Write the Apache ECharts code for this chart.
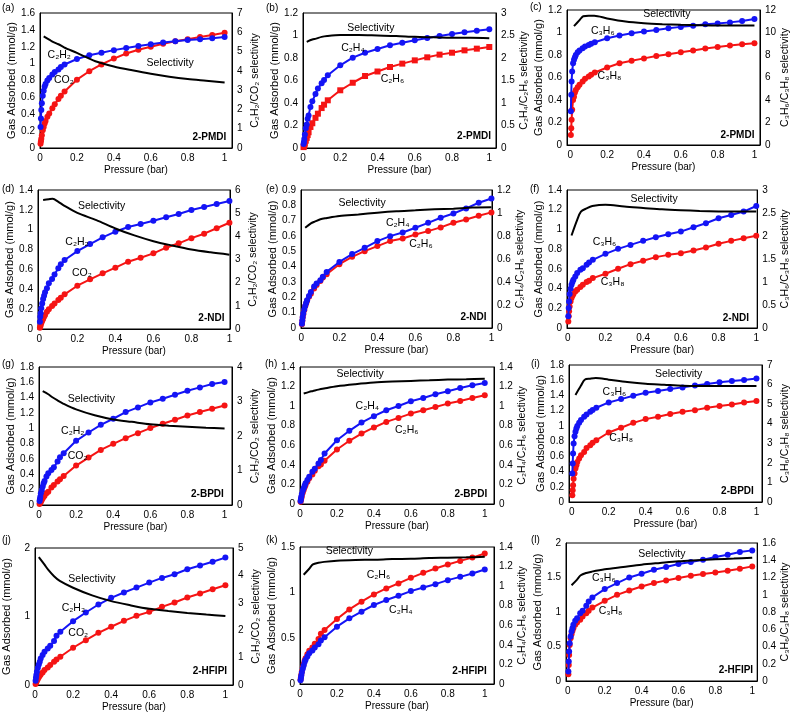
<!DOCTYPE html>
<html><head><meta charset="utf-8">
<script src="https://cdn.jsdelivr.net/npm/echarts@6/dist/echarts.min.js"></script>
<style>html,body{margin:0;padding:0;background:#fff}#c{width:792px;height:716px}</style>
</head><body><div id="c"></div>
<script>
// Pressure points (bar) for isotherms and selectivity curves
const P = [0.003, 0.005, 0.007, 0.01, 0.015, 0.02, 0.025, 0.03, 0.04, 0.05, 0.067, 0.08, 0.1, 0.113, 0.133, 0.2, 0.267, 0.333, 0.4, 0.467, 0.533, 0.6, 0.667, 0.733, 0.8, 0.867, 0.933, 1.0];
const SX = [0.02, 0.05, 0.07, 0.1, 0.13, 0.2, 0.3, 0.4, 0.5, 0.6, 0.7, 0.8, 0.9, 1.0];
const xTicks = [0, 0.2, 0.4, 0.6, 0.8, 1];

// (a) 2-PMDI C2H2/CO2
const a_C2H2 = [0.25, 0.35, 0.45, 0.53, 0.62, 0.68, 0.73, 0.76, 0.80, 0.83, 0.87, 0.90, 0.93, 0.96, 0.99, 1.055, 1.10, 1.13, 1.16, 1.185, 1.21, 1.23, 1.25, 1.265, 1.28, 1.29, 1.30, 1.315];
const a_CO2 = [0.05, 0.08, 0.11, 0.15, 0.21, 0.25, 0.29, 0.32, 0.37, 0.41, 0.47, 0.52, 0.58, 0.62, 0.67, 0.81, 0.91, 0.99, 1.06, 1.12, 1.165, 1.2, 1.235, 1.265, 1.29, 1.315, 1.34, 1.365];
const a_sel = [5.79, 5.62, 5.5, 5.38, 5.22, 4.93, 4.5, 4.23, 4.03, 3.85, 3.7, 3.58, 3.49, 3.4];
// (b) 2-PMDI C2H4/C2H6
const b_C2H4 = [0.035, 0.053, 0.08, 0.12, 0.175, 0.21, 0.26, 0.29, 0.365, 0.415, 0.48, 0.53, 0.575, 0.605, 0.646, 0.735, 0.803, 0.847, 0.88, 0.913, 0.936, 0.957, 0.978, 0.996, 1.013, 1.028, 1.043, 1.055];
const b_C2H6 = [0.008, 0.015, 0.025, 0.039, 0.065, 0.09, 0.115, 0.14, 0.187, 0.22, 0.268, 0.305, 0.355, 0.385, 0.424, 0.513, 0.58, 0.64, 0.68, 0.72, 0.75, 0.779, 0.806, 0.83, 0.847, 0.868, 0.883, 0.898];
const b_sel = [2.36, 2.41, 2.43, 2.47, 2.49, 2.51, 2.51, 2.5, 2.49, 2.47, 2.46, 2.45, 2.45, 2.44];
// (c) 2-PMDI C3H6/C3H8
const c_C3H6 = [0.3, 0.446, 0.565, 0.653, 0.727, 0.757, 0.78, 0.80, 0.825, 0.84, 0.86, 0.875, 0.89, 0.9, 0.913, 0.949, 0.973, 0.993, 1.008, 1.023, 1.037, 1.05, 1.06, 1.073, 1.08, 1.09, 1.103, 1.12];
const c_C3H8 = [0.09, 0.15, 0.225, 0.313, 0.40, 0.43, 0.467, 0.49, 0.514, 0.535, 0.565, 0.588, 0.609, 0.625, 0.644, 0.689, 0.727, 0.748, 0.77, 0.792, 0.807, 0.825, 0.84, 0.857, 0.872, 0.884, 0.896, 0.905];
const c_sel = [10.57, 11.1, 11.45, 11.49, 11.49, 11.25, 10.98, 10.83, 10.74, 10.68, 10.65, 10.63, 10.63, 10.63];
// (d) 2-NDI C2H2/CO2
const d_C2H2 = [0.074, 0.124, 0.158, 0.208, 0.258, 0.302, 0.336, 0.37, 0.41, 0.46, 0.504, 0.55, 0.611, 0.651, 0.695, 0.785, 0.856, 0.923, 0.98, 1.027, 1.057, 1.091, 1.125, 1.158, 1.198, 1.229, 1.259, 1.289];
const d_CO2 = [0.013, 0.023, 0.04, 0.057, 0.08, 0.1, 0.124, 0.141, 0.175, 0.198, 0.232, 0.258, 0.292, 0.316, 0.349, 0.436, 0.5, 0.561, 0.618, 0.678, 0.718, 0.762, 0.819, 0.863, 0.915, 0.96, 1.015, 1.07];
const d_sel = [5.57, 5.6, 5.62, 5.49, 5.33, 5.01, 4.7, 4.34, 4.04, 3.79, 3.6, 3.43, 3.31, 3.21];
// (e) 2-NDI C2H4/C2H6
const e_C2H4 = [0.028, 0.05, 0.072, 0.094, 0.12, 0.144, 0.163, 0.181, 0.209, 0.235, 0.27, 0.29, 0.312, 0.335, 0.366, 0.431, 0.482, 0.523, 0.567, 0.599, 0.623, 0.654, 0.686, 0.719, 0.747, 0.78, 0.817, 0.845];
const e_C2H6 = [0.024, 0.046, 0.068, 0.089, 0.115, 0.142, 0.159, 0.177, 0.203, 0.224, 0.258, 0.28, 0.307, 0.329, 0.351, 0.416, 0.464, 0.501, 0.534, 0.567, 0.584, 0.61, 0.632, 0.656, 0.686, 0.708, 0.732, 0.754];
const e_sel = [0.872, 0.91, 0.925, 0.945, 0.955, 0.974, 0.988, 1.003, 1.015, 1.023, 1.032, 1.038, 1.047, 1.049];
// (f) 2-NDI C3H6/C3H8
const f_C3H6 = [0.118, 0.202, 0.27, 0.344, 0.398, 0.439, 0.466, 0.489, 0.523, 0.557, 0.59, 0.607, 0.641, 0.665, 0.692, 0.752, 0.803, 0.843, 0.884, 0.921, 0.951, 0.978, 1.022, 1.063, 1.113, 1.147, 1.181, 1.238];
const f_C3H8 = [0.067, 0.118, 0.169, 0.219, 0.27, 0.304, 0.327, 0.344, 0.371, 0.388, 0.415, 0.439, 0.466, 0.479, 0.506, 0.55, 0.601, 0.648, 0.682, 0.719, 0.742, 0.759, 0.786, 0.816, 0.854, 0.884, 0.911, 0.935];
const f_sel = [2.01, 2.35, 2.53, 2.6, 2.65, 2.68, 2.64, 2.61, 2.58, 2.56, 2.545, 2.535, 2.53, 2.53];
// (g) 2-BPDI C2H2/CO2
const g_C2H2 = [0.052, 0.078, 0.109, 0.153, 0.196, 0.24, 0.283, 0.314, 0.371, 0.414, 0.458, 0.493, 0.567, 0.623, 0.676, 0.837, 0.946, 1.046, 1.125, 1.212, 1.273, 1.338, 1.386, 1.439, 1.491, 1.534, 1.578, 1.604];
const g_CO2 = [0.013, 0.022, 0.031, 0.044, 0.065, 0.087, 0.109, 0.122, 0.153, 0.174, 0.227, 0.262, 0.305, 0.336, 0.379, 0.514, 0.619, 0.719, 0.798, 0.872, 0.937, 1.003, 1.059, 1.112, 1.168, 1.212, 1.255, 1.299];
const g_sel = [3.3, 3.21, 3.13, 3.03, 2.94, 2.77, 2.6, 2.48, 2.41, 2.34, 2.3, 2.27, 2.24, 2.22];
// (h) 2-BPDI C2H4/C2H6
const h_C2H4 = [0.031, 0.051, 0.075, 0.102, 0.136, 0.16, 0.187, 0.211, 0.245, 0.279, 0.33, 0.36, 0.415, 0.45, 0.516, 0.652, 0.748, 0.832, 0.897, 0.958, 1.002, 1.05, 1.084, 1.121, 1.152, 1.186, 1.213, 1.237];
const h_C2H6 = [0.024, 0.041, 0.058, 0.082, 0.116, 0.143, 0.17, 0.194, 0.228, 0.262, 0.302, 0.34, 0.387, 0.404, 0.442, 0.557, 0.646, 0.72, 0.782, 0.839, 0.88, 0.924, 0.958, 0.992, 1.026, 1.053, 1.084, 1.111];
const h_sel = [1.129, 1.146, 1.155, 1.169, 1.18, 1.203, 1.224, 1.241, 1.251, 1.258, 1.264, 1.271, 1.275, 1.281];
// (i) 2-BPDI C3H6/C3H8
const i_C3H6 = [0.373, 0.505, 0.637, 0.768, 0.865, 0.922, 0.966, 0.997, 1.04, 1.076, 1.119, 1.15, 1.185, 1.21, 1.238, 1.308, 1.352, 1.396, 1.435, 1.457, 1.484, 1.506, 1.532, 1.55, 1.572, 1.589, 1.602, 1.624];
const i_C3H8 = [0.088, 0.154, 0.219, 0.307, 0.373, 0.439, 0.483, 0.527, 0.571, 0.615, 0.658, 0.711, 0.746, 0.777, 0.812, 0.913, 0.975, 1.04, 1.089, 1.119, 1.155, 1.185, 1.207, 1.238, 1.26, 1.282, 1.308, 1.326];
const i_sel = [5.47, 5.95, 6.25, 6.3, 6.33, 6.25, 6.13, 6.04, 5.99, 5.94, 5.93, 5.93, 5.93, 5.93];
// (j) 2-HFIPI C2H2/CO2
const j_C2H2 = [0.063, 0.107, 0.146, 0.194, 0.252, 0.301, 0.34, 0.388, 0.437, 0.485, 0.534, 0.573, 0.641, 0.718, 0.777, 0.932, 1.058, 1.175, 1.272, 1.35, 1.422, 1.495, 1.563, 1.617, 1.69, 1.745, 1.8, 1.86];
const j_CO2 = [0.015, 0.029, 0.044, 0.063, 0.087, 0.112, 0.136, 0.155, 0.184, 0.218, 0.257, 0.291, 0.34, 0.374, 0.413, 0.544, 0.655, 0.762, 0.85, 0.937, 1.01, 1.068, 1.141, 1.204, 1.277, 1.335, 1.398, 1.456];
const j_sel = [4.67, 4.39, 4.2, 3.97, 3.8, 3.55, 3.27, 3.06, 2.91, 2.78, 2.7, 2.63, 2.57, 2.52];
// (k) 2-HFIPI C2H4/C2H6
const k_C2H4 = [0.04, 0.065, 0.094, 0.127, 0.167, 0.203, 0.24, 0.265, 0.301, 0.338, 0.367, 0.4, 0.436, 0.476, 0.512, 0.628, 0.719, 0.792, 0.865, 0.919, 0.966, 1.017, 1.057, 1.093, 1.137, 1.173, 1.21, 1.253];
const k_C2H6 = [0.047, 0.073, 0.102, 0.138, 0.182, 0.218, 0.254, 0.283, 0.327, 0.363, 0.4, 0.44, 0.494, 0.549, 0.592, 0.712, 0.817, 0.901, 0.981, 1.046, 1.101, 1.162, 1.217, 1.264, 1.308, 1.348, 1.384, 1.428];
const k_sel = [1.116, 1.178, 1.222, 1.239, 1.248, 1.26, 1.267, 1.27, 1.277, 1.28, 1.287, 1.29, 1.294, 1.3];
// (l) 2-HFIPI C3H6/C3H8
const l_C3H6 = [0.136, 0.281, 0.426, 0.547, 0.644, 0.717, 0.765, 0.814, 0.872, 0.91, 0.983, 1.017, 1.09, 1.153, 1.211, 1.332, 1.419, 1.501, 1.554, 1.613, 1.651, 1.695, 1.724, 1.758, 1.797, 1.831, 1.869, 1.893];
const l_C3H8 = [0.097, 0.232, 0.378, 0.523, 0.62, 0.678, 0.726, 0.765, 0.814, 0.847, 0.886, 0.935, 0.983, 1.017, 1.065, 1.162, 1.249, 1.312, 1.37, 1.419, 1.458, 1.492, 1.525, 1.55, 1.574, 1.598, 1.627, 1.661];
const l_sel = [1.11, 1.176, 1.226, 1.253, 1.268, 1.295, 1.322, 1.349, 1.369, 1.388, 1.4, 1.411, 1.419, 1.43];

const BLUE = '#1414f5', RED = '#f51414', FONT = 'Liberation Sans, Arial, sans-serif';
const S_C2 = 'C₂H₂/CO₂ selectivity', S_E = 'C₂H₄/C₂H₆ selectivity', S_P = 'C₃H₆/C₃H₈ selectivity';

// layout per panel: grid [left, top, width, height], x range, left axis [max, interval], right axis [max, interval]
// label positions in left-axis data coordinates
const panels = [
 {tag:'(a)', tp:[2,9], mat:'2-PMDI', blue:a_C2H2, red:a_CO2, sel:a_sel, bn:'C₂H₂', rn:'CO₂', sn:S_C2, g:[40,13,192,135], x:[0,1.04], yL:[1.6,0.2], yR:[7,1], rs:'circle',
  lb:[[0.041,1.10],[0.076,0.80],[0.577,1.01],[1.009,0.13]]},
 {tag:'(b)', tp:[266,9], mat:'2-PMDI', blue:b_C2H4, red:b_C2H6, sel:b_sel, bn:'C₂H₄', rn:'C₂H₆', sn:S_E, g:[303,13,193,135], x:[0,1.036], yL:[1.2,0.2], yR:[3,0.5], rs:'rect',
  lb:[[0.205,0.889],[0.417,0.616],[0.237,1.067],[1.009,0.104]]},
 {tag:'(c)', tp:[530,8], mat:'2-PMDI', blue:c_C3H6, red:c_C3H8, sel:c_sel, bn:'C₃H₆', rn:'C₃H₈', sn:S_P, g:[567,10,194,135], x:[-0.018,1.03], yL:[1.2,0.2], yR:[12,2], rs:'circle',
  lb:[[0.112,1.008],[0.148,0.609],[0.396,1.165],[1.0,0.086]]},
 {tag:'(d)', tp:[2,190], mat:'2-NDI', blue:d_C2H2, red:d_CO2, sel:d_sel, bn:'C₂H₂', rn:'CO₂', sn:S_C2, g:[38,190,192,139], x:[-0.007,1.003], yL:[1.4,0.2], yR:[6,1], rs:'circle',
  lb:[[0.137,0.88],[0.172,0.561],[0.203,1.239],[0.974,0.107]]},
 {tag:'(e)', tp:[266,190], mat:'2-NDI', blue:e_C2H4, red:e_C2H6, sel:e_sel, bn:'C₂H₄', rn:'C₂H₆', sn:S_E, g:[301,190,191,138], x:[-0.002,1.003], yL:[0.9,0.1], yR:[1.2,0.2], rs:'circle',
  lb:[[0.445,0.686],[0.567,0.545],[0.195,0.813],[0.974,0.072]]},
 {tag:'(f)', tp:[530,190], mat:'2-NDI', blue:f_C3H6, red:f_C3H8, sel:f_sel, bn:'C₃H₆', rn:'C₃H₈', sn:S_P, g:[567,190,192,138], x:[-0.004,1.005], yL:[1.4,0.2], yR:[3,0.5], rs:'circle',
  lb:[[0.132,0.867],[0.175,0.466],[0.333,1.309],[0.961,0.094]]},
 {tag:'(g)', tp:[2,365], mat:'2-BPDI', blue:g_C2H2, red:g_CO2, sel:g_sel, bn:'C₂H₂', rn:'CO₂', sn:S_C2, g:[39,367,193,138], x:[0,1.04], yL:[1.8,0.2], yR:[4,1], rs:'circle',
  lb:[[0.119,0.959],[0.155,0.632],[0.155,1.386],[0.996,0.144]]},
 {tag:'(h)', tp:[265,365], mat:'2-BPDI', blue:h_C2H4, red:h_C2H6, sel:h_sel, bn:'C₂H₄', rn:'C₂H₆', sn:S_E, g:[300,367,194,137], x:[0,1.05], yL:[1.4,0.2], yR:[1.4,0.2], rs:'circle',
  lb:[[0.301,1.002],[0.514,0.754],[0.198,1.325],[1.013,0.102]]},
 {tag:'(i)', tp:[531,365], mat:'2-BPDI', blue:i_C3H6, red:i_C3H8, sel:i_sel, bn:'C₃H₆', rn:'C₃H₈', sn:S_P, g:[569,365,193,137], x:[-0.015,1.03], yL:[1.8,0.2], yR:[7,1], rs:'circle',
  lb:[[0.167,1.449],[0.203,0.834],[0.45,1.681],[0.986,0.145]]},
 {tag:'(j)', tp:[2,541], mat:'2-HFIPI', blue:j_C2H2, red:j_CO2, sel:j_sel, bn:'C₂H₂', rn:'CO₂', sn:S_C2, g:[35,548,198,137], x:[0,1.04], yL:[2,1], yR:[5,1], rs:'circle',
  lb:[[0.14,1.117],[0.175,0.752],[0.175,1.553],[1.009,0.194]]},
 {tag:'(k)', tp:[266,541], mat:'2-HFIPI', blue:k_C2H4, red:k_C2H6, sel:k_sel, bn:'C₂H₄', rn:'C₂H₆', sn:S_E, g:[300,547,194,137], x:[0,1.05], yL:[1.5,0.5], yR:[1.4,0.2], rs:'circle',
  lb:[[0.482,0.81],[0.361,1.191],[0.139,1.453],[1.011,0.145]]},
 {tag:'(l)', tp:[531,541], mat:'2-HFIPI', blue:l_C3H6, red:l_C3H8, sel:l_sel, bn:'C₃H₆', rn:'C₃H₈', sn:S_P, g:[566,543,193,138], x:[-0.01,1.027], yL:[2,0.5], yR:[1.6,0.2], rs:'circle',
  lb:[[0.131,1.492],[0.167,1.017],[0.382,1.845],[1.005,0.15]]}
];

const pair = (xs, ys) => xs.map((x, k) => [x, ys[k]]);
const txt = {color:'#000', fontFamily:FONT, fontSize:10};
const option = {animation:false, backgroundColor:'#fff', grid:[], xAxis:[], yAxis:[], series:[], graphic:[]};

panels.forEach((p, i) => {
  option.grid.push({left:p.g[0], top:p.g[1], width:p.g[2], height:p.g[3], show:true, borderColor:'#000', borderWidth:1, backgroundColor:'transparent'});
  option.xAxis.push({type:'value', gridIndex:i, min:p.x[0], max:p.x[1],
    axisLine:{show:true, onZero:false, lineStyle:{color:'#000', width:1}}, axisTick:{show:false}, splitLine:{show:false},
    axisLabel:Object.assign({customValues:xTicks, margin:5, showMinLabel:true, showMaxLabel:true}, txt),
    name:'Pressure (bar)', nameLocation:'middle', nameGap:17, nameTextStyle:Object.assign({}, txt, {fontSize:10})});
  option.yAxis.push({type:'value', gridIndex:i, min:0, max:p.yL[0], interval:p.yL[1], position:'left',
    axisLine:{show:true, onZero:false, lineStyle:{color:'#000', width:1}}, axisTick:{show:false}, splitLine:{show:false},
    axisLabel:Object.assign({margin:5}, txt),
    name:'Gas Adsorbed (mmol/g)', nameLocation:'middle', nameRotate:90, nameGap:23, nameTextStyle:Object.assign({}, txt, {fontSize:11})});
  option.yAxis.push({type:'value', gridIndex:i, min:0, max:p.yR[0], interval:p.yR[1], position:'right',
    axisLine:{show:true, onZero:false, lineStyle:{color:'#000', width:1}}, axisTick:{show:false}, splitLine:{show:false},
    axisLabel:Object.assign({margin:5}, txt),
    name:p.sn, nameLocation:'middle', nameRotate:90, nameGap:18, nameTextStyle:Object.assign({}, txt, {fontSize:10.5})});
  const lblBase = {show:true, position:'inside', align:'left', verticalAlign:'middle', color:'#000', fontFamily:FONT, fontSize:10.5, formatter:'{b}'};
  option.series.push({type:'line', name:p.bn, xAxisIndex:i, yAxisIndex:2*i, data:pair(P, p.blue),
    symbol:'circle', symbolSize:6, lineStyle:{color:BLUE, width:2}, itemStyle:{color:BLUE}, z:3,
    markPoint:{symbol:'circle', symbolSize:0.1, silent:true, itemStyle:{color:'transparent'}, label:lblBase,
      data:[
        {name:p.bn, coord:p.lb[0]},
        {name:p.rn, coord:p.lb[1]},
        {name:'Selectivity', coord:p.lb[2]},
        {name:p.mat, coord:p.lb[3], label:{align:'right', fontWeight:'bold', fontSize:10}}
      ]}});
  option.series.push({type:'line', name:p.rn, xAxisIndex:i, yAxisIndex:2*i, data:pair(P, p.red),
    symbol:p.rs, symbolSize:6, lineStyle:{color:RED, width:2}, itemStyle:{color:RED}, z:2});
  option.series.push({type:'line', name:'Selectivity', xAxisIndex:i, yAxisIndex:2*i+1, data:pair(SX, p.sel),
    symbol:'none', smooth:0.3, lineStyle:{color:'#000', width:2}, z:4});
  option.graphic.push({type:'text', left:p.tp[0], top:p.tp[1]-6, style:{text:p.tag, fill:'#000', font:'10px ' + FONT}});
});

const chart = echarts.init(document.getElementById('c'), null, {renderer:'canvas'});
chart.setOption(option);
</script>
</body></html>
